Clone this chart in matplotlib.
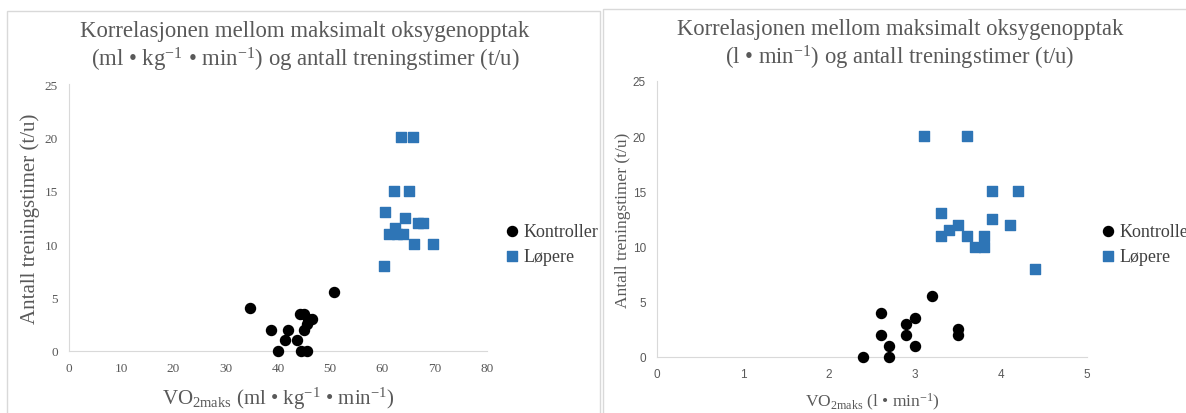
import matplotlib.pyplot as plt
from matplotlib.patches import Rectangle

plt.rcParams['font.family'] = ['Liberation Serif', 'DejaVu Serif']
plt.rcParams['mathtext.fontset'] = 'custom'
plt.rcParams['mathtext.rm'] = 'Liberation Serif'
plt.rcParams['mathtext.it'] = 'Liberation Serif'

# VO2maks relativ (ml/kg/min) mot treningstimer per uke
kontroll_rel_x = [34.6, 38.7, 41.9, 41.3, 43.6, 40.0, 44.4, 45.5, 44.2, 45.0, 45.7, 46.5, 45.6, 45.0, 50.8]
kontroll_rel_y = [4, 2, 2, 1, 1, 0, 0, 0, 3.5, 3.5, 3, 3, 2.5, 2, 5.5]
lopere_rel_x = [63.5, 65.8, 62.2, 65.1, 60.5, 64.4, 66.7, 67.8, 62.4, 61.2, 62.7, 64.0, 66.0, 69.6, 60.3]
lopere_rel_y = [20, 20, 15, 15, 13, 12.5, 12, 12, 11.5, 11, 11, 11, 10, 10, 8]

# VO2maks absolutt (l/min) mot treningstimer per uke
kontroll_abs_x = [2.4, 2.6, 2.6, 2.7, 2.7, 2.9, 2.9, 3.0, 3.0, 3.2, 3.5, 3.5]
kontroll_abs_y = [0, 4, 2, 1, 0, 3, 2, 3.5, 1, 5.5, 2.5, 2]
lopere_abs_x = [3.1, 3.6, 3.9, 4.2, 3.3, 3.9, 4.1, 3.5, 3.4, 3.3, 3.6, 3.8, 3.7, 3.8, 4.4]
lopere_abs_y = [20, 20, 15, 15, 13, 12.5, 12, 12, 11.5, 11, 11, 11, 10, 10, 8]

tekst = '#595959'
linje = '#d9d9d9'
blaa = '#2e75b6'

fig = plt.figure(figsize=(11.86, 4.14), dpi=100)

# rammer rundt de to diagrammene
fig.patches.append(Rectangle((7 / 1186, -0.1), 593 / 1186, 1.1 - 12 / 414, transform=fig.transFigure,
                             fill=False, edgecolor=linje, lw=1))
fig.patches.append(Rectangle((603 / 1186, -0.1), 0.5, 1.1 - 10 / 414, transform=fig.transFigure,
                             fill=False, edgecolor=linje, lw=1))

ax1 = fig.add_axes([69 / 1186, 62 / 414, 418 / 1186, 267 / 414])
ax2 = fig.add_axes([657 / 1186, 56 / 414, 430 / 1186, 276 / 414])


def stil(ax, xmax, xstep, tickfont, ticksize):
    ax.set_xlim(0, xmax)
    ax.set_ylim(0, 25)
    ax.set_xticks(range(0, xmax + 1, xstep))
    ax.set_yticks(range(0, 26, 5))
    for s in ['top', 'right']:
        ax.spines[s].set_visible(False)
    for s in ['left', 'bottom']:
        ax.spines[s].set_color(linje)
    ax.tick_params(length=0, colors=tekst, labelsize=ticksize, pad=8)
    for lab in ax.get_xticklabels() + ax.get_yticklabels():
        lab.set_family(tickfont)


stil(ax1, 80, 10, 'Liberation Serif', 9.5)
stil(ax2, 5, 1, 'Liberation Sans', 8.5)

for ax, kx, ky, lx, ly in [(ax1, kontroll_rel_x, kontroll_rel_y, lopere_rel_x, lopere_rel_y),
                           (ax2, kontroll_abs_x, kontroll_abs_y, lopere_abs_x, lopere_abs_y)]:
    ax.scatter(kx, ky, s=52, marker='o', color='black', label='Kontroller', clip_on=False, zorder=3)
    ax.scatter(lx, ly, s=55, marker='s', color=blaa, label='Løpere', clip_on=False, zorder=3)

fig.text(305 / 1186, 1 - 32 / 414, 'Korrelasjonen mellom maksimalt oksygenopptak',
         ha='center', va='center', fontsize=16.4, color=tekst)
fig.text(305 / 1186, 1 - 60 / 414, r'(ml • kg$^{\mathrm{-1}}$ • min$^{\mathrm{-1}}$) og antall treningstimer (t/u)',
         ha='center', va='center', fontsize=16.4, color=tekst)
fig.text(900 / 1186, 1 - 30 / 414, 'Korrelasjonen mellom maksimalt oksygenopptak',
         ha='center', va='center', fontsize=16.3, color=tekst)
fig.text(900 / 1186, 1 - 58 / 414, r'(l • min$^{\mathrm{-1}}$) og antall treningstimer (t/u)',
         ha='center', va='center', fontsize=16.3, color=tekst)

ax1.set_ylabel('Antall treningstimer (t/u)', fontsize=15, color=tekst, labelpad=3)
ax2.set_ylabel('Antall treningstimer (t/u)', fontsize=12.5, color=tekst, labelpad=1)
ax1.set_xlabel(r'VO$_{\mathrm{2maks}}$ (ml • kg$^{\mathrm{-1}}$ • min$^{\mathrm{-1}}$)', fontsize=15, color=tekst, labelpad=8)
ax2.set_xlabel(r'VO$_{\mathrm{2maks}}$ (l • min$^{\mathrm{-1}}$)', fontsize=12.5, color=tekst, labelpad=8)

for ax, x0 in [(ax1, 505), (ax2, 1101)]:
    ax.legend(loc='center left', bbox_to_anchor=(x0 / 1186, 1 - 245 / 414), bbox_transform=fig.transFigure,
              frameon=False, fontsize=13, handlelength=0.8, handletextpad=0.2, labelspacing=0.45,
              borderaxespad=0, borderpad=0, markerscale=1.0, labelcolor='#404040')

fig.savefig('out.png', dpi=100)
